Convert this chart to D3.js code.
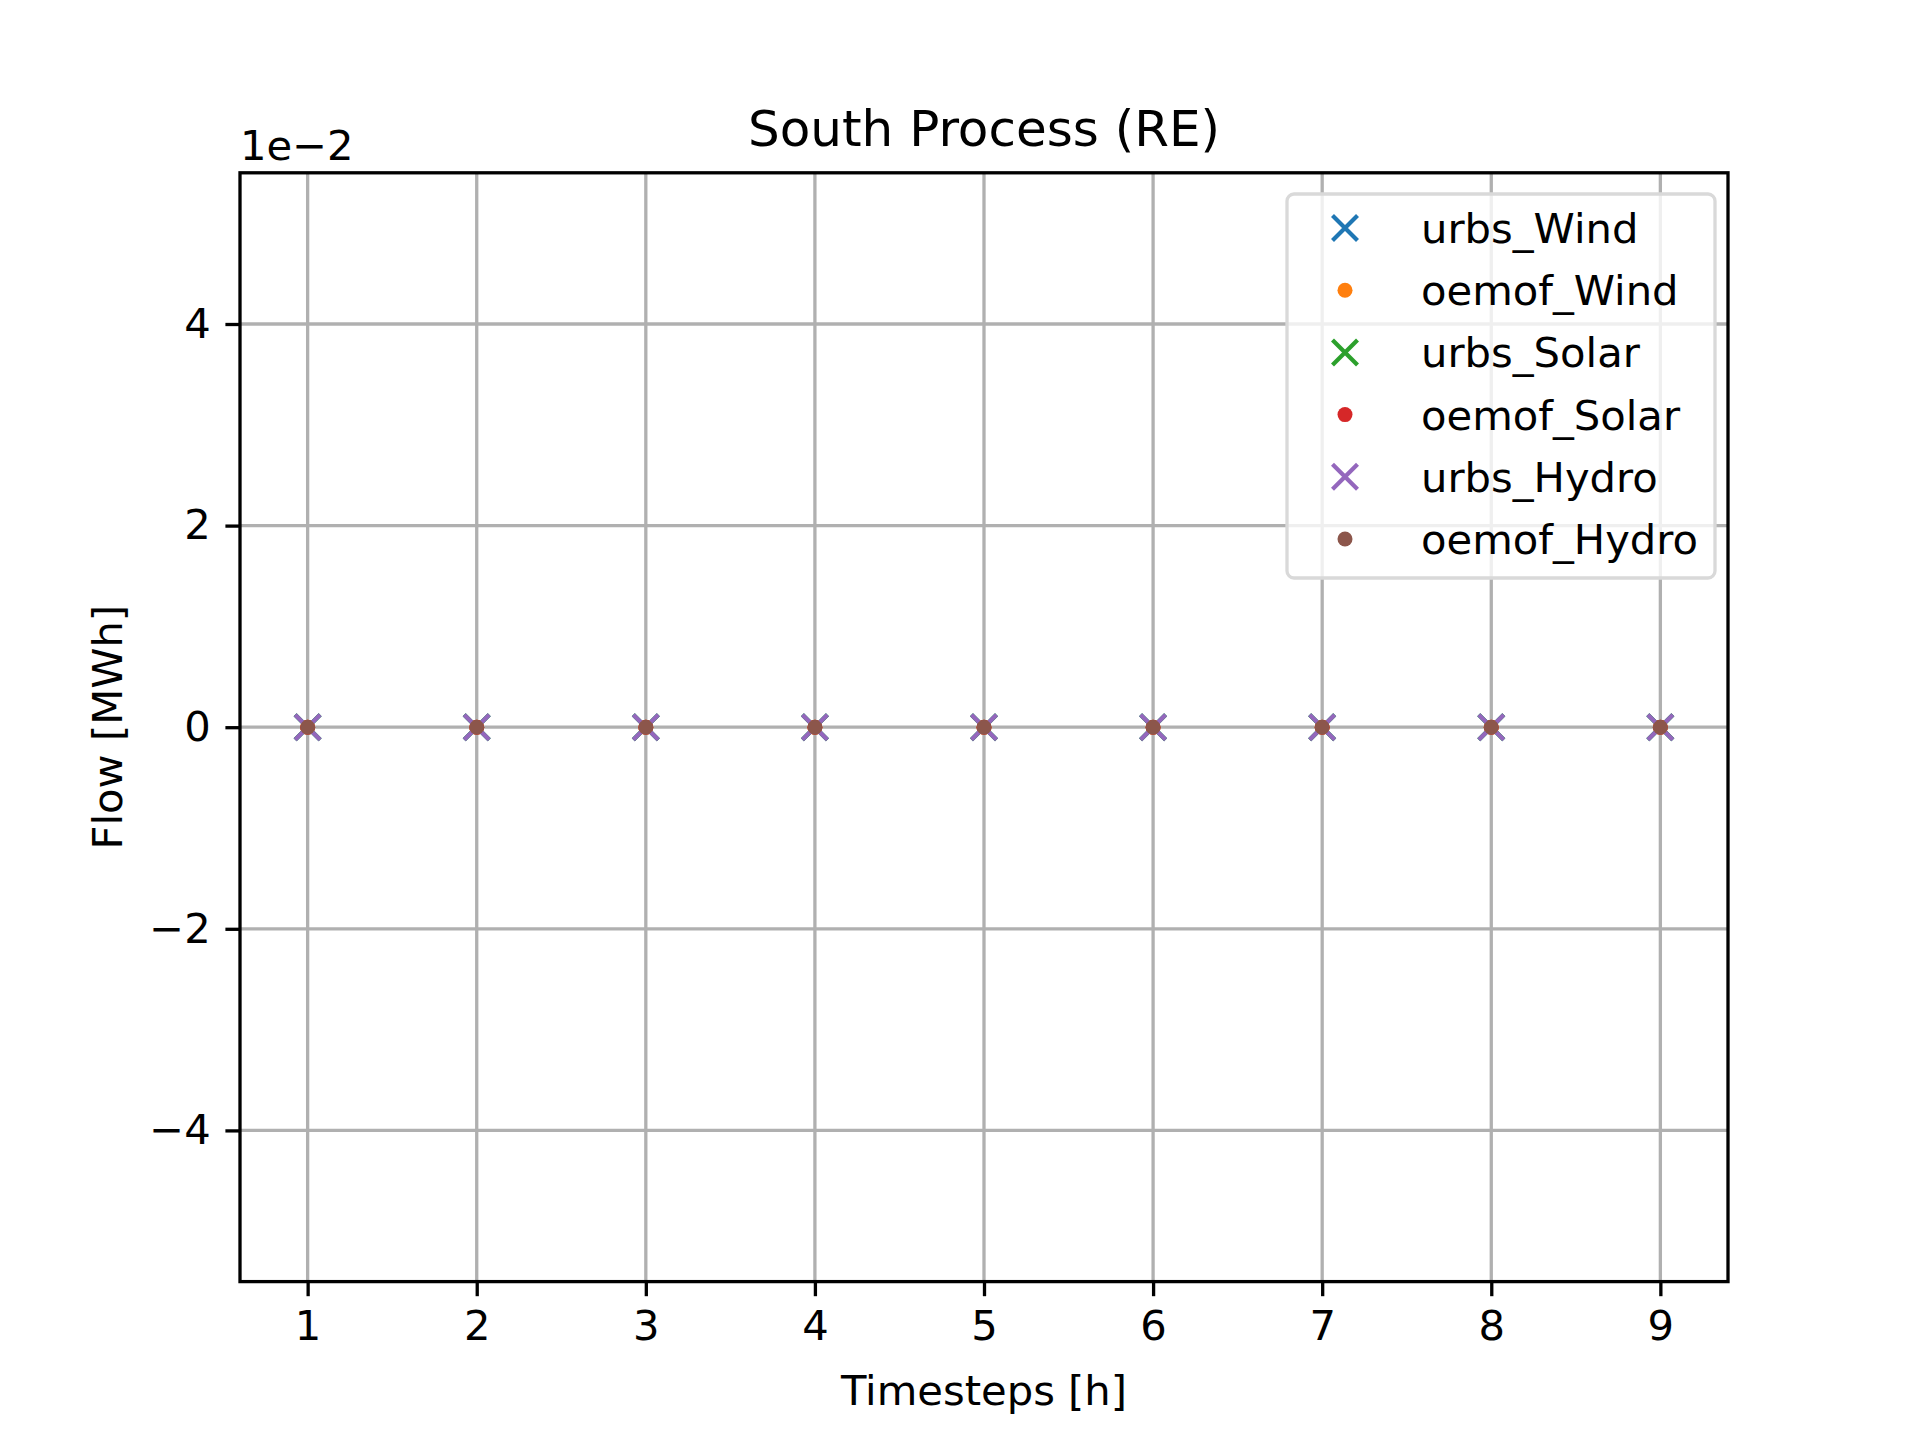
<!DOCTYPE html>
<html>
<head>
<meta charset="utf-8">
<script src="https://cdn.jsdelivr.net/npm/d3@7"></script>
<style>
  body { margin: 0; background: #fff; }
  text { font-family: "DejaVu Sans", sans-serif; fill: #000; }
</style>
</head>
<body>
<svg id="chart" width="1920" height="1440"></svg>
<script>
// data
var timesteps = [1, 2, 3, 4, 5, 6, 7, 8, 9];
var seriesNames = ['urbs_Wind', 'oemof_Wind', 'urbs_Solar', 'oemof_Solar', 'urbs_Hydro', 'oemof_Hydro'];
var seriesMarkers = ['x', 'dot', 'x', 'dot', 'x', 'dot'];
var seriesColors = ['#1f77b4', '#ff7f0e', '#2ca02c', '#d62728', '#9467bd', '#8c564b'];
var urbsWind = [0, 0, 0, 0, 0, 0, 0, 0, 0];
var oemofWind = [0, 0, 0, 0, 0, 0, 0, 0, 0];
var urbsSolar = [0, 0, 0, 0, 0, 0, 0, 0, 0];
var oemofSolar = [0, 0, 0, 0, 0, 0, 0, 0, 0];
var urbsHydro = [0, 0, 0, 0, 0, 0, 0, 0, 0];
var oemofHydro = [0, 0, 0, 0, 0, 0, 0, 0, 0];
var seriesValues = [urbsWind, oemofWind, urbsSolar, oemofSolar, urbsHydro, oemofHydro];
var yTicks = [-0.04, -0.02, 0, 0.02, 0.04];

var svg = d3.select('#chart');
var plotLeft = 240, plotRight = 1728, plotTop = 172.8, plotBottom = 1281.6;
var fs = 41.7;

var x = d3.scaleLinear().domain([0.6, 9.4]).range([plotLeft, plotRight]);
var y = d3.scaleLinear().domain([-0.055, 0.055]).range([plotBottom, plotTop]);

// grid
var grid = svg.append('g').attr('stroke', '#b0b0b0').attr('stroke-width', 3.3);
timesteps.forEach(function (t) {
  grid.append('line').attr('x1', x(t)).attr('x2', x(t)).attr('y1', plotTop).attr('y2', plotBottom);
});
yTicks.forEach(function (v) {
  grid.append('line').attr('x1', plotLeft).attr('x2', plotRight).attr('y1', y(v)).attr('y2', y(v));
});

// axes
var xAxis = svg.append('g').attr('transform', 'translate(0,' + plotBottom + ')')
  .call(d3.axisBottom(x).tickValues(timesteps).tickSize(14.6).tickPadding(14.6).tickFormat(d3.format('d')));
var yAxis = svg.append('g').attr('transform', 'translate(' + plotLeft + ',0)')
  .call(d3.axisLeft(y).tickValues(yTicks).tickSize(14.6).tickPadding(14.6)
    .tickFormat(function (d) { var v = Math.round(d * 100); return v < 0 ? '\u2212' + (-v) : '' + v; }));
[xAxis, yAxis].forEach(function (a) {
  a.select('.domain').remove();
  a.selectAll('line').attr('stroke', '#000').attr('stroke-width', 3.3);
  a.selectAll('text').attr('font-size', fs).attr('font-family', '"DejaVu Sans", sans-serif');
});

// marks
function drawMarker(g, kind, cx, cy, color) {
  if (kind === 'x') {
    var r = 12.5;
    g.append('path')
      .attr('d', 'M' + (cx - r) + ',' + (cy - r) + 'L' + (cx + r) + ',' + (cy + r) +
                 'M' + (cx - r) + ',' + (cy + r) + 'L' + (cx + r) + ',' + (cy - r))
      .attr('stroke', color).attr('stroke-width', 4.2).attr('fill', 'none');
  } else {
    g.append('circle').attr('cx', cx).attr('cy', cy).attr('r', 7.5).attr('fill', color);
  }
}
var marks = svg.append('g');
seriesValues.forEach(function (vals, i) {
  vals.forEach(function (v, j) {
    drawMarker(marks, seriesMarkers[i], x(timesteps[j]), y(v), seriesColors[i]);
  });
});

// frame
svg.append('rect').attr('x', plotLeft).attr('y', plotTop).attr('width', plotRight - plotLeft).attr('height', plotBottom - plotTop)
  .attr('fill', 'none').attr('stroke', '#000').attr('stroke-width', 3.3);

// texts
svg.append('text').attr('x', (plotLeft + plotRight) / 2).attr('y', 146).attr('text-anchor', 'middle')
  .attr('font-size', 50).text('South Process (RE)');
svg.append('text').attr('x', 240).attr('y', 160).attr('font-size', fs).text('1e\u22122');
svg.append('text').attr('x', (plotLeft + plotRight) / 2).attr('y', 1405).attr('text-anchor', 'middle')
  .attr('font-size', fs).text('Timesteps [h]');
svg.append('text').attr('transform', 'translate(122,' + ((plotTop + plotBottom) / 2) + ') rotate(-90)')
  .attr('text-anchor', 'middle').attr('font-size', fs).text('Flow [MWh]');

// legend
var lg = svg.append('g');
lg.append('rect').attr('x', 1287).attr('y', 194).attr('width', 428).attr('height', 384).attr('rx', 7)
  .attr('fill', '#fff').attr('fill-opacity', 0.8).attr('stroke', '#d9d9d9').attr('stroke-width', 3.3);
seriesNames.forEach(function (name, i) {
  var cy = 228 + i * 62.2;
  drawMarker(lg, seriesMarkers[i], 1345, cy, seriesColors[i]);
  lg.append('text').attr('x', 1421).attr('y', cy + 15).attr('font-size', fs).text(name);
});
</script>
</body>
</html>
